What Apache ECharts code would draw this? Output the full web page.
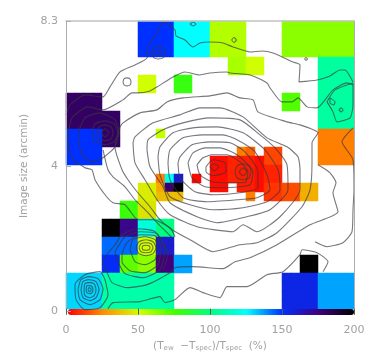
<!DOCTYPE html>
<html>
<head>
<meta charset="utf-8">
<style>html,body{margin:0;padding:0;background:#fff}#c{width:374px;height:357px}</style>
<script src="https://cdn.jsdelivr.net/npm/echarts@6/dist/echarts.min.js"></script>
</head>
<body>
<div id="c"></div>
<script>
// Percent-deviation scale (colour bar) and its ticks
const xTicks = [0, 50, 100, 150, 200];
const yTickLabels = ['0', '4', '8.3'];
const rampColors = ['#ff0000', '#ff9000', '#d0ff00', '#40ff00', '#00ff80', '#00ffff', '#0030ff', '#42007c', '#000000'];

// Tiles: [column, row, columns wide, rows tall, (Tew - Tspec)/Tspec %], on a 32 x 32 tile map, row 0 at the top
const tilesOuter = [
  [8, 0, 4, 4, 150], [12, 0, 4, 4, 125], [16, 0, 4, 4, 55], [24, 0, 8, 4, 62],
  [18, 4, 2, 2, 57], [20, 4, 2, 2, 50], [28, 4, 4, 8, 106],
  [8, 6, 2, 2, 50], [12, 6, 2, 2, 78], [24, 8, 2, 2, 72],
  [0, 8, 4, 4, 180], [4, 10, 2, 4, 180], [0, 12, 4, 4, 150],
  [28, 12, 4, 4, 22], [10, 12, 1, 1, 52]
];
const tilesCore = [
  [19, 14, 1, 1, 22], [20, 14, 1, 1, 17], [22, 14, 2, 2, 12],
  [16, 15, 2, 4, 2], [18, 15, 1, 3, 6], [19, 15, 2, 4, 5], [21, 15, 1, 4, 2],
  [22, 16, 2, 2, 6], [22, 18, 2, 2, 9], [24, 18, 2, 2, 13], [26, 18, 2, 2, 32],
  [20, 19, 1, 1, 22], [14, 17, 1, 1, 1]
];
const tilesKnot = [
  [10, 17, 1, 1, 22], [11, 17, 1, 1, 122], [12, 17, 1, 1, 160],
  [10, 18, 1, 1, 30], [11, 18, 1, 1, 178], [12, 18, 1, 1, 200],
  [10, 19, 3, 1, 35], [8, 18, 2, 2, 46]
];
const tilesLower = [
  [6, 20, 2, 2, 77], [8, 20, 2, 2, 44],
  [4, 22, 2, 2, 200], [6, 22, 2, 2, 172], [8, 22, 2, 2, 118], [10, 22, 2, 2, 100],
  [4, 24, 4, 2, 143], [8, 24, 2, 2, 50], [10, 24, 2, 2, 160],
  [4, 26, 2, 2, 152], [6, 26, 2, 2, 70], [8, 26, 2, 2, 62], [10, 26, 2, 2, 175], [12, 26, 2, 2, 136],
  [26, 26, 2, 2, 200],
  [0, 28, 4, 4, 130], [4, 28, 8, 4, 108], [24, 28, 4, 4, 155], [28, 28, 4, 4, 136]
];

// Surface-brightness contours, traced in map units measured from the top-left map corner
const contourMain = [
  [[54,106],[49,126],[56,149],[62,159],[71,171],[84,186],[94,199],[106,209],[124,219],[147,231],[174,224],[191,222],[211,212],[236,186],[244,169],[246,142],[246,122],[252,112],[234,104],[221,101],[192,91],[187,79],[174,77],[161,72],[144,75],[117,77],[101,81],[91,89],[74,92],[57,102],[54,106]],
  [[67,122],[69,142],[79,159],[91,179],[104,194],[131,206],[167,211],[177,204],[191,211],[214,196],[234,169],[234,149],[232,136],[221,126],[201,117],[177,96],[154,87],[134,87],[114,94],[87,102],[69,116],[67,122]],
  [[81,129],[84,146],[97,166],[104,182],[131,196],[151,202],[181,196],[204,189],[222,169],[221,144],[209,127],[194,114],[174,99],[144,97],[117,102],[97,109],[82,119],[81,129]],
  [[92,136],[94,154],[104,176],[124,184],[147,189],[177,187],[201,181],[214,169],[212,149],[199,129],[177,112],[151,106],[127,107],[107,112],[94,126],[92,136]],
  [[102,142],[104,159],[117,177],[141,181],[171,179],[191,177],[204,169],[201,154],[189,131],[171,119],[157,114],[137,114],[117,117],[104,129],[102,142]],
  [[112,142],[114,157],[129,171],[149,174],[174,172],[192,167],[192,151],[179,131],[164,122],[144,121],[126,124],[114,136],[112,142]],
  [[122,142],[126,157],[139,166],[159,167],[184,164],[187,151],[171,134],[154,127],[139,127],[127,132],[122,142]],
  [[131,144],[134,154],[146,161],[164,162],[179,162],[182,151],[174,141],[161,134],[146,134],[137,137],[131,144]],
  [[140,146],[147,139],[159,142],[160,151],[147,155],[140,151],[140,146]],
  [[144,146],[148,143],[153,146],[148,150],[144,146]],
  [[169,151],[171,145],[177,143],[183,145],[185,151],[183,157],[177,159],[171,157],[169,151]],
  [[173,151],[177,147],[181,151],[177,155],[173,151]]
];
const contourOuter = [
  [[0,94],[4,84],[19,74],[37,76],[44,66],[54,51],[69,44],[81,37],[82,26],[91,12],[97,1],[109,9],[110,15],[119,19],[127,26],[134,22],[144,21],[157,22],[167,26],[184,31],[196,30],[207,32],[227,41],[234,44],[233,61],[251,59],[264,55],[274,49],[279,49],[287,61]],
  [[109,216],[104,207],[87,199],[72,199],[59,184],[47,182],[39,174],[29,159],[26,149],[19,147],[6,137],[2,119],[6,97],[22,86],[37,89],[57,79],[66,72],[72,72],[84,70],[91,66],[107,56],[119,51],[134,54],[144,52],[161,51],[164,52],[184,54],[201,62],[204,67],[216,81],[226,81],[232,77],[241,86],[251,87],[267,69],[281,62],[287,64]],
  [[37,129],[42,149],[47,156],[59,166],[69,179],[81,191],[92,203],[106,217]],
  [[252,144],[264,152],[270,162],[267,172],[272,191],[244,204],[211,224],[184,237],[169,241],[157,248],[127,246],[109,247],[104,252],[81,264],[61,267],[46,262],[42,254],[37,241],[49,224],[56,214],[71,208],[89,211],[102,234],[97,249]],
  [[42,288],[47,282],[74,281],[94,276],[99,282],[109,279],[124,267],[137,272],[154,277],[161,266],[181,266],[201,254],[217,251],[234,234],[236,229],[251,232],[262,241],[257,251]],
  [[249,221],[261,226],[277,222],[286,211],[287,189],[288,169],[287,139],[276,121],[287,107]],
  [[261,81],[269,69],[287,62],[287,84],[284,97],[271,101],[267,91],[261,81]],
  [[264,77],[269,81],[268,84],[264,82],[264,77]],
  [[273,89],[275,87],[277,89],[275,91],[273,89]]
];
const contourKnots = [
  [[35,112],[39,108],[43,112],[39,116],[35,112]],
  [[31,112],[33,106],[39,104],[45,106],[47,112],[45,118],[39,120],[33,118],[31,112]],
  [[26,112],[29,103],[39,100],[48,103],[52,112],[48,121],[39,124],[29,121],[26,112]],
  [[53,112],[49,99],[34,92],[19,97],[12,114],[16,134],[26,141],[37,137],[49,126],[53,112]],
  [[85,32],[88,27],[92,26],[97,27],[99,32],[97,37],[92,38],[88,37],[85,32]],
  [[88,32],[92,29],[96,32],[92,35],[88,32]],
  [[57,61],[58,58],[61,57],[64,58],[65,61],[64,64],[61,65],[58,64],[57,61]],
  [[124,3],[127,1],[130,3],[127,5],[124,3]],
  [[165.5,19],[168,16.5],[170.5,19],[168,21.5],[165.5,19]],
  [[238.5,38],[240,36.5],[241.5,38],[240,39.5],[238.5,38]]
];
const contourClumpA = [
  [[76,227],[77,225],[80,224.5],[83,225],[84,227],[83,229],[80,229.5],[77,229],[76,227]],
  [[73,227],[75,223],[80,222],[85,223],[87,227],[85,231],[80,232],[75,231],[73,227]],
  [[70,227],[73,221],[80,219],[87,221],[90,227],[87,233],[80,235],[73,233],[70,227]],
  [[64,229],[67,219],[79,216],[89,219],[92,229],[89,239],[79,244],[69,241],[64,229]],
  [[56,233],[61,222],[74,214],[89,215],[95,227],[92,244],[79,252],[64,250],[56,241],[56,233]],
  [[49,231],[59,216],[74,211],[91,213],[99,229],[94,249],[77,257],[59,253],[52,241],[49,231]]
];
const contourClumpB = [
  [[39,259],[34,251],[19,254],[9,264],[10,279],[19,289],[34,287],[42,274],[39,259]],
  [[12,269],[15,259],[23,256],[32,258],[37,268],[34,279],[24,284],[14,279],[12,269]],
  [[15,269],[17,261],[23,259],[30,261],[33,269],[30,277],[24,280],[17,277],[15,269]],
  [[18,269],[19,263],[23,262],[28,263],[30,269],[28,275],[24,277],[19,275],[18,269]],
  [[20,269],[21,265],[24,265],[26,266],[27,269],[26,272],[24,273],[21,272],[20,269]],
  [[22,269],[23,267],[25,268],[25,270],[23,271],[22,269]]
];

const FONT = '"DejaVu Sans", sans-serif';
const GREY = '#a2a2a2';
const LINE = '#adadad';
const tiles = [...tilesOuter, ...tilesCore, ...tilesKnot, ...tilesLower];
const heat = [];
tiles.forEach(([c, r, w, h, v]) => {
  for (let i = 0; i < w; i++) for (let j = 0; j < h; j++) heat.push([c + i, r + j, v]);
});
const idx = Array.from({ length: 32 }, (_, i) => i);
const contours = [...contourMain, ...contourOuter, ...contourKnots, ...contourClumpA, ...contourClumpB];

const chart = echarts.init(document.getElementById('c'), null, { renderer: 'canvas' });
chart.setOption({
  animation: false,
  backgroundColor: '#fff',
  grid: [
    { left: 66, top: 21, width: 288, height: 288 },
    { left: 66, top: 21, width: 288, height: 290 },
    { left: 66, top: 21, width: 288, height: 294 }
  ],
  xAxis: [
    { gridIndex: 0, type: 'category', data: idx, show: false },
    { gridIndex: 1, type: 'value', min: 0, max: 1, show: false },
    {
      gridIndex: 2, type: 'value', min: 0, max: 200, interval: 50, position: 'bottom', z: 10,
      axisLine: { show: false },
      axisTick: { show: true, inside: true, length: 6, lineStyle: { color: '#5a5a5a', width: 1 } },
      splitLine: { show: false },
      axisLabel: { color: GREY, fontFamily: FONT, fontSize: 11, margin: 10,
        formatter: v => String(xTicks[xTicks.indexOf(v)]) },
      name: '(T{s|ew}  \u2212T{s|spec})/T{s|spec}  (%)',
      nameLocation: 'middle', nameGap: 24,
      nameTextStyle: { color: GREY, fontFamily: FONT, fontSize: 10.5,
        rich: { s: { fontSize: 7, verticalAlign: 'bottom', padding: [5, 0, 0, 0], color: GREY, fontFamily: FONT } } }
    },
    { gridIndex: 2, type: 'value', min: 0, max: 200, position: 'top', z: 10,
      axisLine: { show: true, onZero: false, lineStyle: { color: '#c4c4c4', width: 1.5 } },
      axisTick: { show: false }, axisLabel: { show: false }, splitLine: { show: false } },
    { gridIndex: 2, type: 'value', min: 0, max: 288, show: false }
  ],
  yAxis: [
    { gridIndex: 0, type: 'category', data: idx, inverse: true, show: false },
    {
      gridIndex: 1, type: 'value', min: 0, max: 8.3, interval: 4.15, position: 'left', z: 10,
      axisLine: { show: false },
      axisTick: { show: true, inside: true, length: 5, lineStyle: { color: LINE, width: 1 } },
      splitLine: { show: false },
      axisLabel: { color: GREY, fontFamily: FONT, fontSize: 11, margin: 8, padding: [5, 0, 0, 0],
        formatter: (v, i) => yTickLabels[i] },
      name: 'Image size (arcmin)', nameLocation: 'middle', nameGap: 28, nameRotate: 90,
      nameTextStyle: { color: GREY, fontFamily: FONT, fontSize: 10.5 }
    },
    { gridIndex: 2, type: 'value', min: 0, max: 1, position: 'left', z: 10,
      axisLine: { show: true, onZero: false, lineStyle: { color: LINE, width: 1 } },
      axisTick: { show: false }, axisLabel: { show: false }, splitLine: { show: false } },
    { gridIndex: 2, type: 'value', min: 0, max: 1, position: 'right', z: 10,
      axisLine: { show: true, onZero: false, lineStyle: { color: LINE, width: 1 } },
      axisTick: { show: false }, axisLabel: { show: false }, splitLine: { show: false } },
    { gridIndex: 2, type: 'value', min: 0, max: 294, inverse: true, show: false }
  ],
  visualMap: {
    type: 'continuous', seriesIndex: 0, min: 0, max: 200, orient: 'horizontal',
    left: 68, top: 309, itemWidth: 6, itemHeight: 286, calculable: false, hoverLink: false,
    text: ['', ''], showLabel: false, padding: 0, inRange: { color: rampColors }, z: 3
  },
  series: [
    { type: 'heatmap', xAxisIndex: 0, yAxisIndex: 0, data: heat, z: 1, silent: true,
      itemStyle: { borderWidth: 0 }, emphasis: { disabled: true } },
    ...contours.map(path => ({
      type: 'line', xAxisIndex: 4, yAxisIndex: 4, data: path, showSymbol: false, symbol: 'none',
      smooth: 0.2, z: 5, silent: true, animation: false,
      lineStyle: { color: 'rgba(55,55,65,0.68)', width: 1.1 }
    }))
  ]
});
</script>
</body>
</html>
